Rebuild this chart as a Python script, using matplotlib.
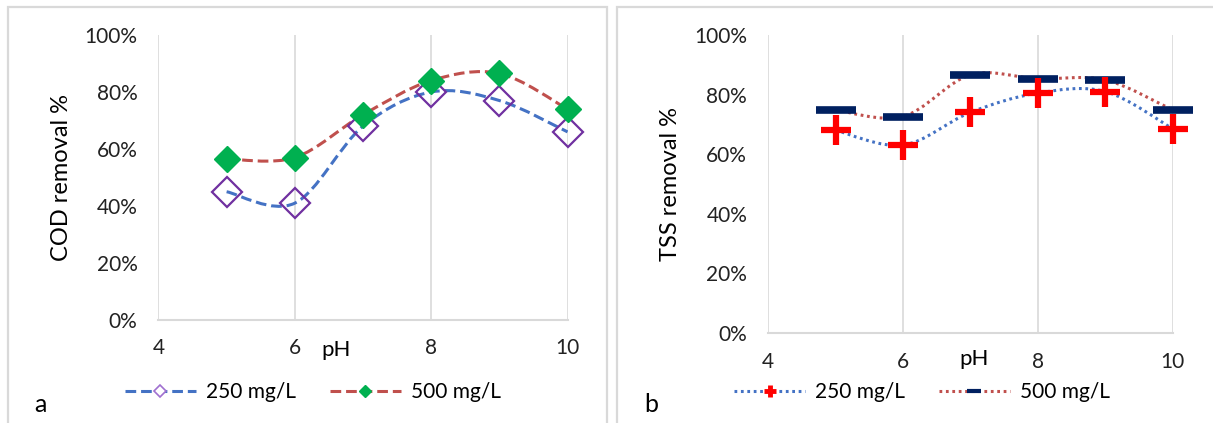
import numpy as np
import matplotlib
matplotlib.use("Agg")
import matplotlib.pyplot as plt
from matplotlib.path import Path
from matplotlib.patches import PathPatch, Rectangle
from matplotlib.lines import Line2D
from matplotlib.ticker import PercentFormatter

plt.rcParams['font.family'] = ['Lato', 'DejaVu Sans']

ph = [5, 6, 7, 8, 9, 10]
cod_250 = [0.45, 0.41, 0.68, 0.80, 0.77, 0.66]
cod_500 = [0.565, 0.57, 0.72, 0.84, 0.865, 0.74]
tss_250 = [0.68, 0.63, 0.74, 0.805, 0.81, 0.685]
tss_500 = [0.748, 0.726, 0.866, 0.853, 0.849, 0.748]
series_labels = ['250 mg/L', '500 mg/L']
x_ticks = [4, 6, 8, 10]
y_ticks = [0, 0.2, 0.4, 0.6, 0.8, 1.0]

BLUE = '#4472C4'
RED = '#C0504D'
GRID = '#d9d9d9'


def smooth_path(x, y):
    # Excel-like smoothed line: Catmull-Rom as cubic bezier segments
    pts = np.column_stack([x, y]).astype(float)
    n = len(pts)
    verts = [pts[0]]
    codes = [Path.MOVETO]
    for i in range(n - 1):
        p0 = pts[max(i - 1, 0)]
        p1 = pts[i]
        p2 = pts[i + 1]
        p3 = pts[min(i + 2, n - 1)]
        verts += [p1 + (p2 - p0) / 6, p2 - (p3 - p1) / 6, p2]
        codes += [Path.CURVE4] * 3
    return Path(verts, codes)


def style_axes(ax, ylabel, pad_x):
    ax.set_xlim(4, 10)
    ax.set_ylim(0, 1)
    ax.set_xticks(x_ticks)
    ax.set_yticks(y_ticks)
    ax.yaxis.set_major_formatter(PercentFormatter(1.0, decimals=0))
    ax.grid(axis='x', color=GRID, lw=1.2)
    ax.set_axisbelow(True)
    for s in ['top', 'right', 'left']:
        ax.spines[s].set_visible(False)
    ax.spines['bottom'].set_color(GRID)
    ax.spines['bottom'].set_linewidth(1.5)
    ax.tick_params(axis='y', length=0, pad=15, labelsize=15, labelcolor='#222222')
    ax.tick_params(axis='x', length=0, pad=pad_x, labelsize=15, labelcolor='#222222')
    ax.set_ylabel(ylabel, fontsize=17, color='black')


fig = plt.figure(figsize=(12.13, 4.23), dpi=100)

# panel frames
fig.add_artist(Rectangle((8 / 1213, -0.05), 599 / 1213, 1.05 - 7 / 423,
                         transform=fig.transFigure, fill=False, ec=GRID, lw=1.6))
fig.add_artist(Rectangle((617 / 1213, -0.05), 0.6, 1.05 - 7 / 423,
                         transform=fig.transFigure, fill=False, ec=GRID, lw=1.6))

# ---- panel a: COD
ax1 = fig.add_axes([0.1306, 0.2435, 0.3373, 0.6738])
style_axes(ax1, 'COD removal %', 13)
ax1.yaxis.set_label_coords(-0.212, 0.5)
ax1.add_patch(PathPatch(smooth_path(ph, cod_250), fill=False, ec=BLUE, lw=2.2,
                        linestyle=(0, (3.5, 1.6)), zorder=2))
ax1.add_patch(PathPatch(smooth_path(ph, cod_500), fill=False, ec=RED, lw=2.2,
                        linestyle=(0, (3.5, 1.6)), zorder=2))
ax1.plot(ph, cod_250, ls='none', marker='D', ms=15, mfc='none', mec='#7030A0',
         mew=1.6, zorder=3, clip_on=False)
ax1.plot(ph, cod_500, ls='none', marker='D', ms=13, mfc='#00B050', mec='#00B050',
         zorder=4, clip_on=False)
ax1.text(6.6, -0.105, 'pH', fontsize=16, ha='center', va='center',
         transform=ax1.transData)

h1 = [Line2D([], [], color=BLUE, lw=2.2, ls=(0, (3.5, 1.6)), marker='D', ms=6,
             mfc='white', mec='#A070D0', mew=1.2),
      Line2D([], [], color=RED, lw=2.2, ls=(0, (3.5, 1.6)), marker='D', ms=6,
             mfc='#00B050', mec='#00B050')]
fig.legend(h1, series_labels, loc='center', bbox_to_anchor=(313 / 1213, 1 - 392 / 423),
           ncol=2, frameon=False, fontsize=15, handlelength=3.4, handletextpad=0.5,
           columnspacing=1.6)
fig.text(40 / 1213, 1 - 404 / 423, 'a', fontsize=18, ha='center', va='center')

# ---- panel b: TSS
ax2 = fig.add_axes([0.6332, 0.2135, 0.3336, 0.7038])
style_axes(ax2, 'TSS removal %', 14)
ax2.yaxis.set_label_coords(-0.215, 0.5)
ax2.add_patch(PathPatch(smooth_path(ph, tss_250), fill=False, ec=BLUE, lw=2.2,
                        linestyle=(0, (0.9, 1.2)), zorder=2))
ax2.add_patch(PathPatch(smooth_path(ph, tss_500), fill=False, ec=RED, lw=2.2,
                        linestyle=(0, (0.9, 1.2)), zorder=2))
ax2.plot(ph, tss_500, ls='none', marker='_', ms=29, mec='#002060', mew=5.5, zorder=3,
         clip_on=False)
ax2.plot(ph, tss_250, ls='none', marker='+', ms=21, mec='#FF0000', mew=4.5, zorder=4,
         clip_on=False)
ax2.text(7.05, -0.09, 'pH', fontsize=16, ha='center', va='center',
         transform=ax2.transData)

h2 = [Line2D([], [], color=BLUE, lw=2.2, ls=(0, (0.9, 1.2)), marker='+', ms=9,
             mec='#FF0000', mew=3.5),
      Line2D([], [], color=RED, lw=2.2, ls=(0, (0.9, 1.2)), marker='_', ms=10,
             mec='#002060', mew=3)]
fig.legend(h2, series_labels, loc='center', bbox_to_anchor=(922 / 1213, 1 - 392 / 423),
           ncol=2, frameon=False, fontsize=15, handlelength=3.4, handletextpad=0.5,
           columnspacing=1.6)
fig.text(651 / 1213, 1 - 404 / 423, 'b', fontsize=18, ha='center', va='center')

fig.savefig('out.png', dpi=100)
